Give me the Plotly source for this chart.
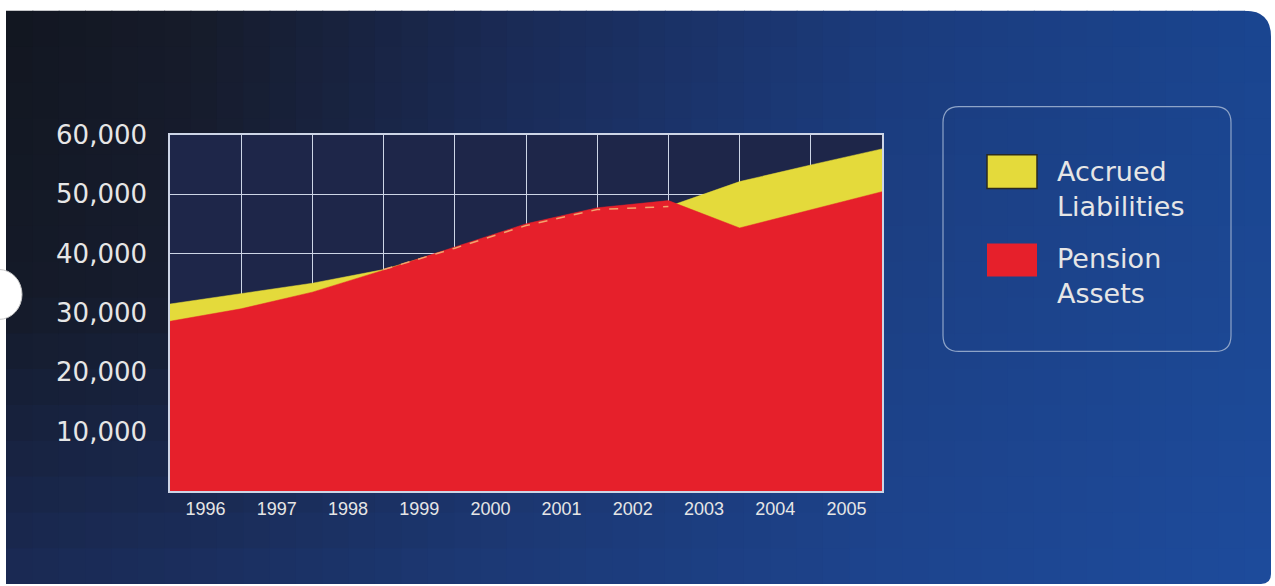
import plotly.graph_objects as go

# ---------------- data ----------------
years = [1996, 1997, 1998, 1999, 2000, 2001, 2002, 2003, 2004, 2005]
# values read at the period boundaries (start of each year, plus end of 2005)
period_edges = [1996, 1997, 1998, 1999, 2000, 2001, 2002, 2003, 2004, 2005, 2006]
accrued_liabilities = [31500, 33200, 35000, 37300, 40900, 44700, 47400, 47900, 52100, 54900, 57600]
pension_assets = [28600, 30700, 33500, 37200, 41100, 45000, 47700, 48900, 44300, 47300, 50400]
y_ticks = [10000, 20000, 30000, 40000, 50000, 60000]
y_tick_labels = ["10,000", "20,000", "30,000", "40,000", "50,000", "60,000"]
series_names = ["Accrued<br>Liabilities", "Pension<br>Assets"]

# ---------------- style ----------------
W, H = 1275, 586
YELLOW = "#e4da3b"
RED = "#e6202b"
NAVY = "#1e2649"
GRID = "#cdd5e6"
TEXT = "#e6e6e6"

# the capture shows the page with a small top band and slight vertical squeeze;
# positions below are given in target-image pixels and mapped back here
V_OFF, V_SCALE = 13.2, 0.9756


def px(x):
    return x / W


def py(y):
    fy = (y - V_OFF) / V_SCALE
    return 1 - fy / H


def hex2rgb(h):
    h = h.lstrip("#")
    return [int(h[i:i + 2], 16) for i in (0, 2, 4)]


def mix(c1, c2, t):
    return [c1[i] + (c2[i] - c1[i]) * t for i in range(3)]


# background gradient anchors (columns in x fraction, rows top/mid/bottom)
ax = [0.0, 0.15, 0.4, 0.7, 1.0]
ay = [0.0, 0.5, 1.0]
anchors = [
    ["#121620", "#161b2a", "#1a2a55", "#1b3b7c", "#1a4590"],
    ["#141a28", "#171d30", "#1b2e5e", "#1c4085", "#1c4894"],
    ["#1a2a55", "#1b2f60", "#1c3a78", "#1d448e", "#1d4b9c"],
]
anchors = [[hex2rgb(c) for c in row] for row in anchors]


def interp1(xs, vals, t):
    for i in range(len(xs) - 1):
        if t <= xs[i + 1]:
            f = (t - xs[i]) / (xs[i + 1] - xs[i])
            return mix(vals[i], vals[i + 1], f)
    return vals[-1]


def bg_color(fx, fy):
    rows = [interp1(ax, r, fx) for r in anchors]
    c = interp1(ay, rows, fy)
    return "rgb(%d,%d,%d)" % tuple(int(round(v)) for v in c)


CX0, CX1, CY0, CY1 = 6, 1271, 9, 583
shapes = []
NX, NY = 48, 16
cw = (CX1 - CX0) / NX
ch = (CY1 - CY0) / NY
for i in range(NX):
    for j in range(NY):
        x0 = CX0 + i * cw
        y0 = CY0 + j * ch
        x1 = min(CX1, x0 + cw + 1)
        y1 = min(CY1, y0 + ch + 1)
        col = bg_color((i + 0.5) / NX, (j + 0.5) / NY)
        shapes.append(dict(type="rect", xref="paper", yref="paper", layer="below",
                           x0=px(x0), x1=px(x1), y0=py(y1), y1=py(y0),
                           fillcolor=col, line=dict(width=0)))

# rounded card corners (white masks)
r1 = 26
shapes.append(dict(type="path", xref="paper", yref="paper", layer="below",
                   path=f"M {px(CX1 - r1)},{py(CY0)} Q {px(CX1)},{py(CY0)} {px(CX1)},{py(CY0 + r1)} "
                        f"L {px(CX1 + 2)},{py(CY0 + r1)} L {px(CX1 + 2)},{py(CY0 - 2)} L {px(CX1 - r1)},{py(CY0 - 2)} Z",
                   fillcolor="white", line=dict(width=0)))
r2 = 10
shapes.append(dict(type="path", xref="paper", yref="paper", layer="below",
                   path=f"M {px(CX1)},{py(CY1 - r2)} Q {px(CX1)},{py(CY1)} {px(CX1 - r2)},{py(CY1)} "
                        f"L {px(CX1 - r2)},{py(CY1 + 2)} L {px(CX1 + 2)},{py(CY1 + 2)} L {px(CX1 + 2)},{py(CY1 - r2)} Z",
                   fillcolor="white", line=dict(width=0)))
# hole punch
shapes.append(dict(type="circle", xref="paper", yref="paper", layer="below",
                   x0=px(-24), x1=px(22), y0=py(318), y1=py(268),
                   fillcolor="white", line=dict(color="#c8c8c8", width=1)))

# plot area background
shapes.append(dict(type="rect", xref="x domain", yref="y domain", layer="below",
                   x0=0, x1=1, y0=0, y1=1, fillcolor=NAVY, line=dict(width=0)))

# legend box and swatches
LX0, LX1, LY0, LY1, LR = 943, 1231, 105, 350, 16
shapes.append(dict(type="path", xref="paper", yref="paper", layer="above",
                   path=(f"M {px(LX0 + LR)},{py(LY0)} L {px(LX1 - LR)},{py(LY0)} "
                         f"Q {px(LX1)},{py(LY0)} {px(LX1)},{py(LY0 + LR)} "
                         f"L {px(LX1)},{py(LY1 - LR)} Q {px(LX1)},{py(LY1)} {px(LX1 - LR)},{py(LY1)} "
                         f"L {px(LX0 + LR)},{py(LY1)} Q {px(LX0)},{py(LY1)} {px(LX0)},{py(LY1 - LR)} "
                         f"L {px(LX0)},{py(LY0 + LR)} Q {px(LX0)},{py(LY0)} {px(LX0 + LR)},{py(LY0)} Z"),
                   line=dict(color="#8ea4c8", width=1.2)))
shapes.append(dict(type="rect", xref="paper", yref="paper", layer="above",
                   x0=px(987), x1=px(1037), y0=py(187), y1=py(153),
                   fillcolor=YELLOW, line=dict(color="#2a2a20", width=1.5)))
shapes.append(dict(type="rect", xref="paper", yref="paper", layer="above",
                   x0=px(987), x1=px(1037), y0=py(275), y1=py(242),
                   fillcolor=RED, line=dict(width=0)))

fig = go.Figure()
fig.add_trace(go.Scatter(
    x=period_edges, y=accrued_liabilities, name="Accrued Liabilities",
    mode="lines", line=dict(color=YELLOW, width=0.5), fill="tozeroy",
    fillcolor=YELLOW, showlegend=False, hoverinfo="skip"))
fig.add_trace(go.Scatter(
    x=period_edges, y=pension_assets, name="Pension Assets",
    mode="lines", line=dict(color=RED, width=0.5), fill="tozeroy",
    fillcolor=RED, showlegend=False, hoverinfo="skip"))
# liabilities outline where it lies under the assets area
fig.add_trace(go.Scatter(
    x=period_edges[3:8], y=accrued_liabilities[3:8], mode="lines",
    line=dict(color="#f2a36c", width=1.5, dash="dash"),
    showlegend=False, hoverinfo="skip"))

annotations = [
    dict(text=series_names[0], xref="paper", yref="paper", x=px(1055), y=py(187),
         xanchor="left", yanchor="middle", align="left", showarrow=False,
         font=dict(family="DejaVu Sans, Arial", size=27, color=TEXT)),
    dict(text=series_names[1], xref="paper", yref="paper", x=px(1055), y=py(275),
         xanchor="left", yanchor="middle", align="left", showarrow=False,
         font=dict(family="DejaVu Sans, Arial", size=27, color=TEXT)),
]

fig.update_layout(
    width=W, height=H, autosize=False,
    margin=dict(l=0, r=0, t=0, b=0),
    paper_bgcolor="white",
    plot_bgcolor=NAVY,
    showlegend=False,
    shapes=shapes,
    annotations=annotations,
    xaxis=dict(
        domain=[px(170), px(882)], range=[1996, 2006],
        tickmode="array", tickvals=[y + 0.5 for y in years],
        ticktext=[str(y) for y in years], ticks="", showgrid=False,
        minor=dict(tick0=1996, dtick=1, showgrid=True, gridcolor=GRID, gridwidth=1, ticks=""),
        showline=True, mirror=True, linecolor=GRID, linewidth=1.5,
        zeroline=False, fixedrange=True,
        tickfont=dict(family="Liberation Sans, Arial", size=18, color=TEXT),
    ),
    yaxis=dict(
        domain=[py(490), py(133)], range=[0, 60000],
        tickmode="array", tickvals=y_ticks, ticktext=y_tick_labels,
        ticks="", showgrid=True, gridcolor=GRID, gridwidth=1,
        showline=True, mirror=True, linecolor=GRID, linewidth=1.5,
        zeroline=False, fixedrange=True, ticklabelstandoff=16,
        tickfont=dict(family="DejaVu Sans, Arial", size=26, color=TEXT),
    ),
)

post = ("document.body.style.margin='0';document.body.style.overflow='hidden';"
        "document.documentElement.style.overflow='hidden';")
fig.write_html("out.html", post_script=post,
               config={"displayModeBar": False, "responsive": False})
